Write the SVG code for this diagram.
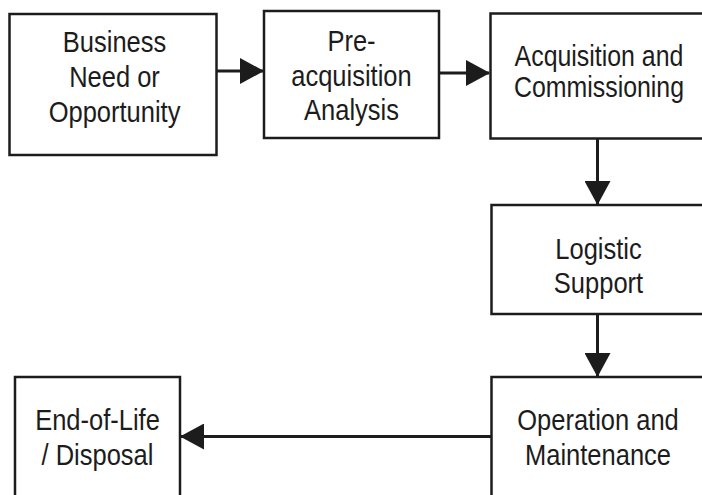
<svg xmlns="http://www.w3.org/2000/svg" width="702" height="495" viewBox="0 0 702 495">
<style>
.box{fill:#fff;stroke:#1c1c1c;stroke-width:2.5}
.lbl{font-family:"Liberation Sans",Arial,sans-serif;font-size:30px;fill:#1c1c1c;text-anchor:middle}
.conn{stroke:#1c1c1c;stroke-width:3;fill:none;marker-end:url(#ah)}
</style>
<defs>
<marker id="ah" markerUnits="userSpaceOnUse" markerWidth="24" markerHeight="26" refX="23" refY="13" orient="auto" viewBox="0 0 24 26">
<path d="M0,0 L24,13 L0,26 z" fill="#1c1c1c"/>
</marker>
</defs>
<rect width="702" height="495" fill="#fff"/>
<g id="connectors">
<line class="conn" x1="217" y1="71" x2="263" y2="71"/>
<line class="conn" x1="440" y1="73" x2="489" y2="73"/>
<line class="conn" x1="597.5" y1="139" x2="597.5" y2="204"/>
<line class="conn" x1="597.5" y1="314" x2="597.5" y2="376"/>
<line class="conn" x1="491" y1="436.5" x2="181" y2="436.5"/>
</g>
<g id="n1">
<rect class="box" x="9.5" y="14" width="207" height="141"/>
<g transform="translate(114.5 0) scale(0.85 1)">
<text class="lbl" x="0" y="52">Business</text>
<text class="lbl" x="0" y="87">Need or</text>
<text class="lbl" x="0" y="122">Opportunity</text>
</g>
</g>
<g id="n2">
<rect class="box" x="264" y="11" width="175" height="127"/>
<g transform="translate(351.5 0) scale(0.85 1)">
<text class="lbl" x="0" y="51">Pre-</text>
<text class="lbl" x="0" y="86">acquisition</text>
<text class="lbl" x="0" y="120">Analysis</text>
</g>
</g>
<g id="n3">
<rect class="box" x="490.5" y="13.5" width="220" height="125"/>
<g transform="translate(599 0) scale(0.83 1)">
<text class="lbl" x="0" y="66.5">Acquisition and</text>
<text class="lbl" x="0" y="97">Commissioning</text>
</g>
</g>
<g id="n4">
<rect class="box" x="491.5" y="205" width="220" height="109"/>
<g transform="translate(598.5 0) scale(0.85 1)">
<text class="lbl" x="0" y="259.5">Logistic</text>
<text class="lbl" x="0" y="293.5">Support</text>
</g>
</g>
<g id="n5">
<rect class="box" x="491.5" y="377" width="220" height="130"/>
<g transform="translate(598 0) scale(0.85 1)">
<text class="lbl" x="0" y="430">Operation and</text>
<text class="lbl" x="0" y="465">Maintenance</text>
</g>
</g>
<g id="n6">
<rect class="box" x="15" y="377" width="165" height="130"/>
<g transform="translate(97.5 0) scale(0.85 1)">
<text class="lbl" x="0" y="430">End-of-Life</text>
<text class="lbl" x="0" y="465">/ Disposal</text>
</g>
</g>
</svg>
